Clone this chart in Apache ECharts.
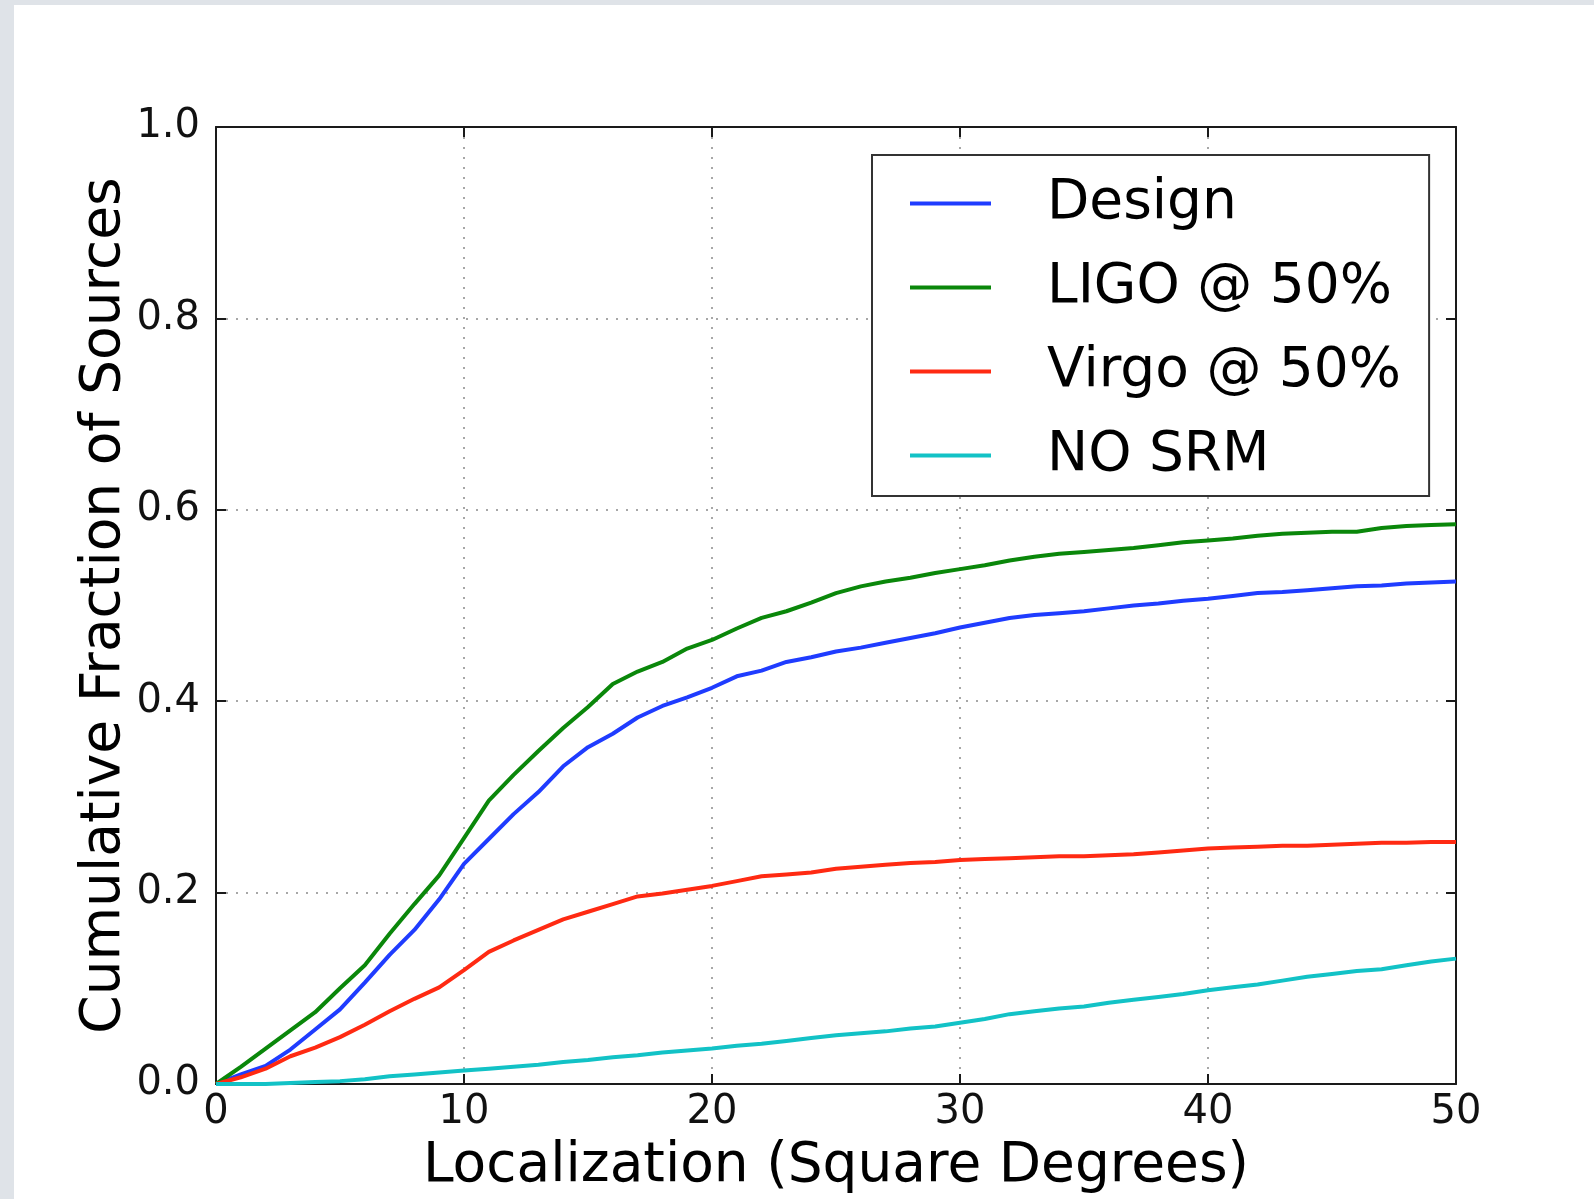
<!DOCTYPE html>
<html>
<head>
<meta charset="utf-8">
<script src="https://cdn.jsdelivr.net/npm/echarts@6/dist/echarts.min.js"></script>
<style>
html,body{margin:0;padding:0;background:#fff;}
#chart{width:1594px;height:1199px;}
</style>
</head>
<body>
<div id="chart"></div>
<script>
// Localization (square degrees)
const xValues = [0,1,2,3,4,5,6,7,8,9,10,11,12,13,14,15,16,17,18,19,20,21,22,23,24,25,26,27,28,29,30,31,32,33,34,35,36,37,38,39,40,41,42,43,44,45,46,47,48,49,50];
const designValues = [0,0.010,0.019,0.036,0.057,0.078,0.106,0.135,0.161,0.193,0.230,0.256,0.282,0.305,0.332,0.352,0.366,0.383,0.395,0.404,0.414,0.426,0.432,0.441,0.446,0.452,0.456,0.461,0.466,0.471,0.477,0.482,0.487,0.490,0.492,0.494,0.497,0.500,0.502,0.505,0.507,0.510,0.513,0.514,0.516,0.518,0.520,0.521,0.523,0.524,0.525];
const ligoValues = [0,0.018,0.037,0.056,0.075,0.100,0.124,0.157,0.188,0.218,0.257,0.296,0.323,0.348,0.372,0.394,0.418,0.431,0.441,0.455,0.464,0.476,0.487,0.494,0.503,0.513,0.520,0.525,0.529,0.534,0.538,0.542,0.547,0.551,0.554,0.556,0.558,0.560,0.563,0.566,0.568,0.570,0.573,0.575,0.576,0.577,0.577,0.581,0.583,0.584,0.585];
const virgoValues = [0,0.007,0.016,0.029,0.038,0.049,0.062,0.076,0.089,0.101,0.119,0.138,0.150,0.161,0.172,0.180,0.188,0.196,0.199,0.203,0.207,0.212,0.217,0.219,0.221,0.225,0.227,0.229,0.231,0.232,0.234,0.235,0.236,0.237,0.238,0.238,0.239,0.240,0.242,0.244,0.246,0.247,0.248,0.249,0.249,0.250,0.251,0.252,0.252,0.253,0.253];
const noSrmValues = [0,0,0,0.001,0.002,0.003,0.005,0.008,0.010,0.012,0.014,0.016,0.018,0.020,0.023,0.025,0.028,0.030,0.033,0.035,0.037,0.040,0.042,0.045,0.048,0.051,0.053,0.055,0.058,0.060,0.064,0.068,0.073,0.076,0.079,0.081,0.085,0.088,0.091,0.094,0.098,0.101,0.104,0.108,0.112,0.115,0.118,0.120,0.124,0.128,0.131];
const seriesNames = ['Design', 'LIGO @ 50%', 'Virgo @ 50%', 'NO SRM'];
const seriesColors = ['#1f3cff', '#0a870a', '#ff2a12', '#12c2c6'];
const xTitle = 'Localization (Square Degrees)';
const yTitle = 'Cumulative Fraction of Sources';

const FONT = 'DejaVu Sans';
const pairs = vals => xValues.map((x, i) => [x, vals[i]]);
const allVals = [designValues, ligoValues, virgoValues, noSrmValues];

const axisLineStyle = { color: '#1a1a1a', width: 2 };
const tickStyle = { show: true, inside: true, length: 10, lineStyle: { color: '#1a1a1a', width: 2 } };
const gridLine = { show: true, lineStyle: { color: '#8a8a8a', width: 1.5, type: [2, 8] } };

const chart = echarts.init(document.getElementById('chart'), null, { renderer: 'canvas' });
chart.setOption({
  backgroundColor: '#ffffff',
  animation: false,
  textStyle: { fontFamily: FONT },
  graphic: [
    { type: 'rect', left: 0, top: 0, shape: { width: 14, height: 1199 }, style: { fill: '#dfe3e8' }, silent: true },
    { type: 'rect', left: 0, top: 0, shape: { width: 1594, height: 5 }, style: { fill: '#dfe3e8' }, silent: true }
  ],
  grid: { left: 216, top: 127, width: 1240, height: 958, containLabel: false },
  legend: {
    orient: 'vertical',
    left: 872, top: 155,
    padding: [21, 28, 13, 38],
    itemGap: 29,
    itemWidth: 81, itemHeight: 4,
    icon: 'rect',
    backgroundColor: '#fff',
    borderColor: '#333', borderWidth: 2,
    textStyle: { fontFamily: FONT, fontSize: 55, color: '#000', padding: [0, 0, 0, 51] },
    data: seriesNames
  },
  xAxis: [
    {
      type: 'value', min: 0, max: 50, interval: 10,
      name: xTitle, nameLocation: 'middle', nameGap: 55, nameMoveOverlap: false,
      nameTextStyle: { fontFamily: FONT, fontSize: 55, color: '#000' },
      axisLine: { show: true, onZero: false, lineStyle: axisLineStyle },
      axisTick: tickStyle,
      axisLabel: { fontFamily: FONT, fontSize: 40, color: '#111', margin: 9 },
      splitLine: gridLine
    },
    {
      type: 'value', min: 0, max: 50, interval: 10, position: 'top',
      axisLine: { show: true, onZero: false, lineStyle: axisLineStyle },
      axisTick: tickStyle, axisLabel: { show: false }, splitLine: { show: false }
    }
  ],
  yAxis: [
    {
      type: 'value', min: 0, max: 1, interval: 0.2,
      name: yTitle, nameLocation: 'middle', nameGap: 84, nameMoveOverlap: false,
      nameTextStyle: { fontFamily: FONT, fontSize: 55, color: '#000' },
      axisLine: { show: true, onZero: false, lineStyle: axisLineStyle },
      axisTick: tickStyle,
      axisLabel: { fontFamily: FONT, fontSize: 40, color: '#111', margin: 16, formatter: v => v.toFixed(1) },
      splitLine: gridLine
    },
    {
      type: 'value', min: 0, max: 1, interval: 0.2, position: 'right',
      axisLine: { show: true, onZero: false, lineStyle: axisLineStyle },
      axisTick: tickStyle, axisLabel: { show: false }, splitLine: { show: false }
    }
  ],
  series: seriesNames.map((name, i) => ({
    name: name,
    type: 'line',
    xAxisIndex: 0, yAxisIndex: 0,
    data: pairs(allVals[i]),
    showSymbol: false,
    symbol: 'none',
    color: seriesColors[i],
    lineStyle: { color: seriesColors[i], width: 4 },
    z: 3
  }))
});
</script>
</body>
</html>
